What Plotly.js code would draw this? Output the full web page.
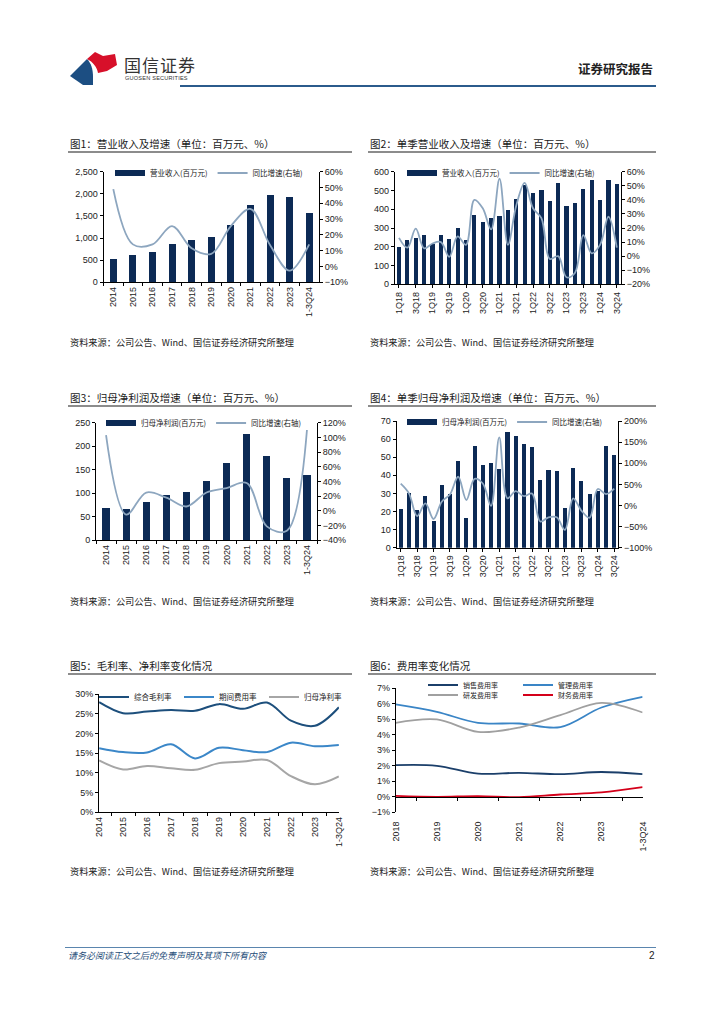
<!DOCTYPE html>
<html><head><meta charset="utf-8">
<script src="https://cdn.plot.ly/plotly-3.0.1.min.js"></script>
<style>
body{margin:0;background:#fff;}
#page{position:relative;width:724px;height:1024px;overflow:hidden;background:#fff;}
#chart{position:absolute;left:0;top:0;width:724px;height:1024px;}
.ov{position:absolute;white-space:nowrap;font-family:"Noto Sans CJK SC","Noto Sans",sans-serif;line-height:1;}
</style></head><body>
<div id="page">
<div id="chart"></div>
<svg class="ov" style="left:68px;top:50px;" width="52" height="36" viewBox="0 0 52 36">
  <path d="M2,26 L19,9 C23,13 25,19 25,27 L25,35 L15,35 Z" fill="#1C4E82"/>
  <path d="M19,9 L27,2 L35,6 L47,4 L49,15 L39,21 L30,23 C29,17 25,12 19,9 Z" fill="#D7102A"/>
</svg>
<div class="ov" style="left:124px;top:56px;font-size:17px;color:#333;letter-spacing:1px;">国信证券</div>
<div class="ov" style="left:125px;top:76px;font-size:5.6px;color:#333;font-family:'Liberation Sans',Arial;letter-spacing:0.2px;">GUOSEN SECURITIES</div>
<div class="ov" style="left:578px;top:63px;font-size:12.5px;color:#222;font-weight:bold;">证券研究报告</div>
<div class="ov" style="left:180px;top:85px;width:476px;height:2px;background:#2B5B8C;"></div>
<div class="ov" style="left:65px;top:947px;width:591px;height:1px;background:#5A85AE;"></div>
<div class="ov" style="left:68px;top:951px;font-size:9px;color:#1F4E79;font-style:italic;">请务必阅读正文之后的免责声明及其项下所有内容</div>
<div class="ov" style="left:649px;top:951px;font-size:10px;color:#222;font-family:'Liberation Sans',Arial;">2</div>
</div>
<script>
// ---------- data ----------
const years1 = ['2014','2015','2016','2017','2018','2019','2020','2021','2022','2023','1-3Q24'];
const revenue1 = [535, 617, 693, 866, 956, 1032, 1288, 1747, 1973, 1920, 1559];
const revGrowth1 = [49, 14, 14, 25.6, 11.5, 8, 25.6, 36.4, 13.6, -2.6, 14];

const quarters = ['1Q18','2Q18','3Q18','4Q18','1Q19','2Q19','3Q19','4Q19','1Q20','2Q20','3Q20','4Q20','1Q21','2Q21','3Q21','4Q21','1Q22','2Q22','3Q22','4Q22','1Q23','2Q23','3Q23','4Q23','1Q24','2Q24','3Q24'];
const quarterTicks = ['1Q18','3Q18','1Q19','3Q19','1Q20','3Q20','1Q21','3Q21','1Q22','3Q22','1Q23','3Q23','1Q24','3Q24'];
const revenueQ = [200, 238, 248, 262, 215, 262, 242, 300, 236, 368, 332, 355, 365, 395, 452, 530, 485, 500, 443, 538, 415, 435, 508, 554, 448, 558, 537];
const revGrowthQ = [13, 6, 19.5, 5.5, 9, 10, -0.5, 14, 8, 40, 34, 19, 55, 8, 36, 52, 34, 27, -2, 0, -15, -12, 15, 2, 8, 28, 6];

const profit3 = [69, 66, 81, 96, 102, 126, 165, 227, 179, 132, 139];
const profitGrowth3 = [103, -5, 25, 18, 6, 25, 31, 38, -21, -27, 110];

const profitQ = [21.4, 30, 21, 28.5, 15, 34.6, 29.5, 48, 16.6, 56, 45.7, 46.8, 43.3, 64, 61.7, 57.3, 55.6, 37.4, 42.9, 42.4, 21.9, 44.2, 36.8, 29.6, 31.3, 56, 51.2];
const profitGrowthQ = [51.6, 28.7, -25, 5, -32, 9, 26, 68, 13, 63, 52, -1, 161, 17, 34, 22, 28, -38, -28, -28, -58, 17, -12, -29, 39, 27, 40];

const grossMargin = [28, 25.2, 25.6, 26, 25.8, 27.5, 26.3, 27.9, 23.3, 22, 26.7];
const expenseRatio = [16.3, 15.3, 15.2, 17.3, 13.7, 16.4, 15.8, 15.3, 17.7, 16.8, 17.1];
const netMargin = [13.2, 10.9, 11.8, 11.2, 10.8, 12.5, 12.9, 13.3, 9.2, 7.1, 9.1];

const years6 = ['2018','2019','2020','2021','2022','2023','1-3Q24'];
const salesRatio = [2.04, 2.0, 1.5, 1.55, 1.46, 1.6, 1.46];
const adminRatio = [5.96, 5.48, 4.77, 4.73, 4.5, 5.76, 6.45];
const rdRatio = [4.77, 4.99, 4.19, 4.47, 5.27, 6.06, 5.44];
const finRatio = [0.06, 0.0, 0.04, -0.02, 0.15, 0.28, 0.62];

const titles = ['图1：营业收入及增速（单位：百万元、%）','图2：单季营业收入及增速（单位：百万元、%）','图3：归母净利润及增速（单位：百万元、%）','图4：单季归母净利润及增速（单位：百万元、%）','图5：毛利率、净利率变化情况','图6：费用率变化情况'];
const sourceText = '资料来源：公司公告、Wind、国信证券经济研究所整理';

// ---------- helpers ----------
const W = 724, H = 1024;
const fx = p => p / W;
const fy = p => 1 - p / H;
const hd = (a, b) => [fx(a), fx(b)];
const vd = (top, bot) => [fy(bot), fy(top)];
const CJK = '"Noto Sans CJK SC", "Noto Sans", sans-serif';
const NUM = '"Liberation Sans", Arial, sans-serif';
const BAR = '#0C2A55', GLINE = '#8DA6BF';

const axBase = () => ({showline:true, linecolor:'#000', linewidth:1, ticks:'outside', ticklen:3, tickcolor:'#000', showgrid:false, zeroline:false, tickfont:{family:NUM, size:9, color:'#222'}, fixedrange:true});
const xCat = (domain, anchor, extra) => Object.assign(axBase(), {type:'category', domain, anchor, tickangle:-90, tickson:'boundaries'}, extra || {});
const yAx = (domain, anchor, extra) => Object.assign(axBase(), {domain, anchor}, extra || {});
const legFont = {family:CJK, size:7.5, color:'#222'};
const leg = (x, y) => ({x:fx(x), y:fy(y), xanchor:'left', yanchor:'middle', orientation:'h', bgcolor:'rgba(0,0,0,0)', font:legFont, itemclick:false, tracegroupgap:0});
const spl = (color, width) => ({color, width, shape:'spline', smoothing:1});
// legend-only swatch for the bar series (wide rectangle like the reference)
const barKey = (name, xa, ya, lg) => ({type:'scatter', mode:'lines', x:[null], y:[null], xaxis:xa, yaxis:ya, line:{color:BAR, width:6}, name, legend:lg, hoverinfo:'skip'});

const traces = [
  {type:'bar', x:years1, y:revenue1, xaxis:'x', yaxis:'y', marker:{color:BAR}, width:0.36, name:'营业收入(百万元)', showlegend:false},
  barKey('营业收入(百万元)', 'x', 'y', 'legend'),
  {type:'scatter', mode:'lines', x:years1, y:revGrowth1, xaxis:'x', yaxis:'y2', line:spl(GLINE, 1.8), name:'同比增速(右轴)', legend:'legend'},

  {type:'bar', x:quarters, y:revenueQ, xaxis:'x2', yaxis:'y3', marker:{color:BAR}, width:0.5, name:'营业收入(百万元)', showlegend:false},
  barKey('营业收入(百万元)', 'x2', 'y3', 'legend2'),
  {type:'scatter', mode:'lines', x:quarters, y:revGrowthQ, xaxis:'x2', yaxis:'y4', line:spl(GLINE, 1.8), name:'同比增速(右轴)', legend:'legend2'},

  {type:'bar', x:years1, y:profit3, xaxis:'x3', yaxis:'y5', marker:{color:BAR}, width:0.36, name:'归母净利润(百万元)', showlegend:false},
  barKey('归母净利润(百万元)', 'x3', 'y5', 'legend3'),
  {type:'scatter', mode:'lines', x:years1, y:profitGrowth3, xaxis:'x3', yaxis:'y6', line:spl(GLINE, 1.8), name:'同比增速(右轴)', legend:'legend3'},

  {type:'bar', x:quarters, y:profitQ, xaxis:'x4', yaxis:'y7', marker:{color:BAR}, width:0.5, name:'归母净利润(百万元)', showlegend:false},
  barKey('归母净利润(百万元)', 'x4', 'y7', 'legend4'),
  {type:'scatter', mode:'lines', x:quarters, y:profitGrowthQ, xaxis:'x4', yaxis:'y8', line:spl(GLINE, 1.8), name:'同比增速(右轴)', legend:'legend4'},

  {type:'scatter', mode:'lines', x:years1, y:grossMargin, xaxis:'x5', yaxis:'y9', line:spl('#1D4F7C', 2), name:'综合毛利率', legend:'legend5'},
  {type:'scatter', mode:'lines', x:years1, y:expenseRatio, xaxis:'x5', yaxis:'y9', line:spl('#3B87C8', 2), name:'期间费用率', legend:'legend5'},
  {type:'scatter', mode:'lines', x:years1, y:netMargin, xaxis:'x5', yaxis:'y9', line:spl('#A6A6A6', 2), name:'归母净利率', legend:'legend5'},

  {type:'scatter', mode:'lines', x:years6, y:salesRatio, xaxis:'x6', yaxis:'y10', line:spl('#1B3F6A', 1.8), name:'销售费用率', legend:'legend6'},
  {type:'scatter', mode:'lines', x:years6, y:adminRatio, xaxis:'x6', yaxis:'y10', line:spl('#3A85C6', 1.8), name:'管理费用率', legend:'legend6'},
  {type:'scatter', mode:'lines', x:years6, y:rdRatio, xaxis:'x6', yaxis:'y10', line:spl('#A0A0A0', 1.8), name:'研发费用率', legend:'legend7'},
  {type:'scatter', mode:'lines', x:years6, y:finRatio, xaxis:'x6', yaxis:'y10', line:spl('#D4001A', 1.8), name:'财务费用率', legend:'legend7'}
];

// chart geometry (pixels)
const g1 = {x0:103.5, x1:319, top:171.7, bot:282.3};
const g2 = {x0:394.8, x1:621, top:171.7, bot:284.3};
const g3 = {x0:96, x1:317, top:422.7, bot:540.3};
const g4 = {x0:396.6, x1:618.3, top:421, bot:547.7};
const g5 = {x0:99.1, x1:338.9, top:694.3, bot:812.3};
const g6 = {x0:395.7, x1:642.6, top:688.3, bot:812.3};
const zero6 = g6.bot - (g6.bot - g6.top) / 8; // pixel of 0% level

const layout = {
  width:W, height:H, autosize:false, margin:{l:0, r:0, t:0, b:0},
  paper_bgcolor:'#fff', plot_bgcolor:'rgba(0,0,0,0)', showlegend:true,
  font:{family:NUM, size:9, color:'#222'}, bargap:0,

  xaxis: xCat(hd(g1.x0, g1.x1), 'y'),
  yaxis: yAx(vd(g1.top, g1.bot), 'x', {range:[0, 2500], dtick:500, tickformat:','}),
  yaxis2: yAx(vd(g1.top, g1.bot), 'x', {overlaying:'y', side:'right', range:[-10, 60], dtick:10, ticksuffix:'%'}),

  xaxis2: xCat(hd(g2.x0, g2.x1), 'y3', {tickson:'labels', tickmode:'array', tickvals:quarterTicks, ticktext:quarterTicks}),
  yaxis3: yAx(vd(g2.top, g2.bot), 'x2', {range:[0, 600], dtick:100}),
  yaxis4: yAx(vd(g2.top, g2.bot), 'x2', {overlaying:'y3', side:'right', range:[-20, 60], dtick:10, ticksuffix:'%'}),

  xaxis3: xCat(hd(g3.x0, g3.x1), 'y5'),
  yaxis5: yAx(vd(g3.top, g3.bot), 'x3', {range:[0, 250], dtick:50}),
  yaxis6: yAx(vd(g3.top, g3.bot), 'x3', {overlaying:'y5', side:'right', range:[-40, 120], dtick:20, ticksuffix:'%'}),

  xaxis4: xCat(hd(g4.x0, g4.x1), 'y7', {tickson:'labels', tickmode:'array', tickvals:quarterTicks, ticktext:quarterTicks}),
  yaxis7: yAx(vd(g4.top, g4.bot), 'x4', {range:[0, 70], dtick:10}),
  yaxis8: yAx(vd(g4.top, g4.bot), 'x4', {overlaying:'y7', side:'right', range:[-100, 200], dtick:50, ticksuffix:'%'}),

  xaxis5: xCat(hd(g5.x0, g5.x1), 'y9'),
  yaxis9: yAx(vd(g5.top, g5.bot), 'x5', {range:[0, 30], dtick:5, ticksuffix:'%'}),

  xaxis6: xCat(hd(g6.x0, g6.x1), 'free', {anchor:'free', position:fy(zero6), ticklabelstandoff:20}),
  yaxis10: yAx(vd(g6.top, g6.bot), 'x6', {range:[-1, 7], dtick:1, ticksuffix:'%'}),

  legend: leg(110, 173),
  legend2: leg(402, 173),
  legend3: leg(101, 423),
  legend4: leg(402, 422),
  legend5: Object.assign(leg(94, 697), {entrywidth:40}),
  legend6: Object.assign(leg(423, 685), {entrywidth:50, font:{family:CJK, size:7, color:'#222'}}),
  legend7: Object.assign(leg(423, 695), {entrywidth:50, font:{family:CJK, size:7, color:'#222'}}),

  annotations: [], shapes: []
};

const titleRows = [[143, 152], [143, 152], [397, 406], [397, 406], [665, 674], [665, 674]];
const colX = [[68, 352], [368, 656]];
titles.forEach((t, i) => {
  const c = colX[i % 2], r = titleRows[i];
  layout.annotations.push({text:t, xref:'paper', yref:'paper', x:fx(c[0]), y:fy(r[0]), xanchor:'left', yanchor:'middle', showarrow:false, font:{family:CJK, size:10.5, color:'#1a1a1a'}});
  layout.shapes.push({type:'line', xref:'paper', yref:'paper', x0:fx(c[0]), x1:fx(c[1]), y0:fy(r[1]), y1:fy(r[1]), line:{color:'#666', width:1.5}});
});
[342, 601, 871].forEach(py => {
  colX.forEach(c => {
    layout.annotations.push({text:sourceText, xref:'paper', yref:'paper', x:fx(c[0]), y:fy(py), xanchor:'left', yanchor:'middle', showarrow:false, font:{family:CJK, size:9.2, color:'#222'}});
  });
});

Plotly.newPlot('chart', traces, layout, {staticPlot:true, displayModeBar:false});
</script>
</body></html>
